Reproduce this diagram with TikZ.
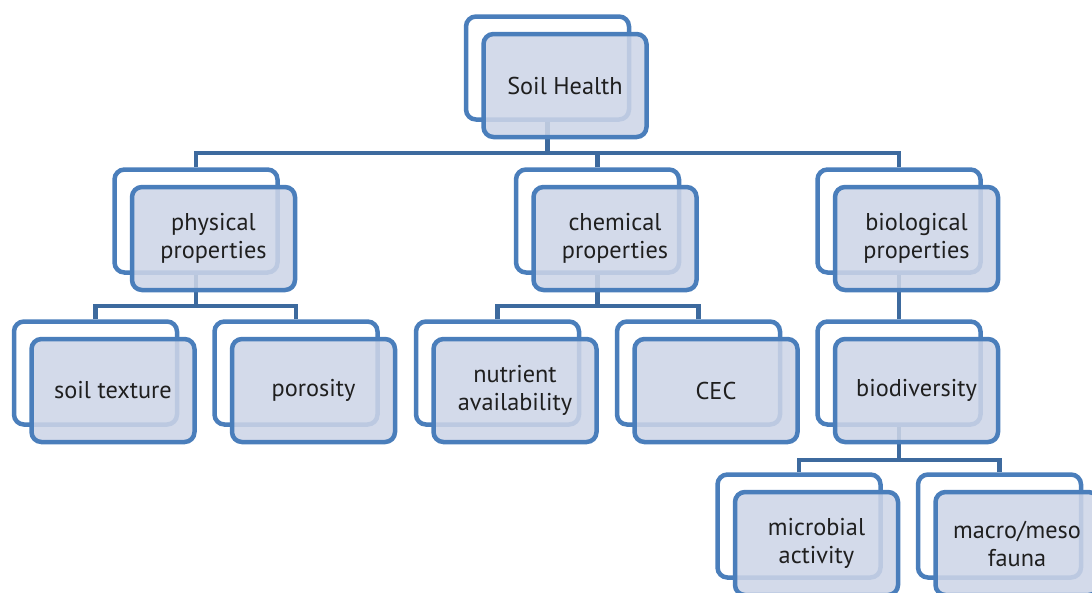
\documentclass[tikz,border=0pt]{standalone}
\usepackage{fontspec}
\setmainfont{PT Sans}
\definecolor{boxblue}{HTML}{4A7EBB}
\definecolor{linkblue}{HTML}{3D6A9E}
\definecolor{boxfill}{HTML}{CDD5E7}
\tikzset{
  backbox/.style={rectangle, rounded corners=10pt, draw=boxblue, line width=4.5pt,
    fill=white, minimum width=163pt, minimum height=103pt},
  frontbox/.style={backbox, fill=boxfill, fill opacity=0.87, text opacity=1,
    align=center, text=black!88, font=\fontsize{24.3}{28}\selectfont},
  link/.style={draw=linkblue, line width=4.5pt}
}
% name / x / y / label (back box centre, pixels from top left)
\def\soilboxes{sh/547.5/68/{Soil Health},
  phys/196/221/{physical\\properties}, chem/597.5/221/{chemical\\properties},
  bio/899/221/{biological\\properties},
  tex/95.5/373/{soil texture}, por/296/373/{porosity},
  nut/497.5/373/{nutrient\\availability}, cec/698.5/373/{CEC},
  div/899/373/{biodiversity},
  mic/799/526/{microbial\\activity}, mac/999.5/526/{macro/meso\\fauna}}
\begin{document}
\begin{tikzpicture}[x=1pt,y=-1pt]
    \useasboundingbox (0,0) rectangle (1092,592);
    \clip (0,0) rectangle (1092,592);

    % Back boxes
    \foreach \name/\x/\y/\txt in \soilboxes {
        \node[backbox] (\name-bk) at (\x,\y) {};
    }

    % Connectors
    \coordinate (bar1) at (547.5,153);
    \coordinate (bar2) at (196,306);
    \coordinate (bar3) at (597.5,306);
    \coordinate (bar4) at (899,460);
    \draw[link] (sh-bk.south) -- (bar1);
    \foreach \kid in {phys,chem,bio} {
        \draw[link] (\kid-bk.north) |- (bar1);
    }
    \draw[link] (phys-bk.south) -- (bar2);
    \foreach \kid in {tex,por} {
        \draw[link] (\kid-bk.north) |- (bar2);
    }
    \draw[link] (chem-bk.south) -- (bar3);
    \foreach \kid in {nut,cec} {
        \draw[link] (\kid-bk.north) |- (bar3);
    }
    \draw[link] (bio-bk.south) -- (div-bk.north);
    \draw[link] (div-bk.south) -- (bar4);
    \foreach \kid in {mic,mac} {
        \draw[link] (\kid-bk.north) |- (bar4);
    }

    % Front boxes
    \foreach \name/\x/\y/\txt in \soilboxes {
        \node[frontbox] (\name) at (\x+17.5,\y+17.5) {\txt};
    }
\end{tikzpicture}
\end{document}
